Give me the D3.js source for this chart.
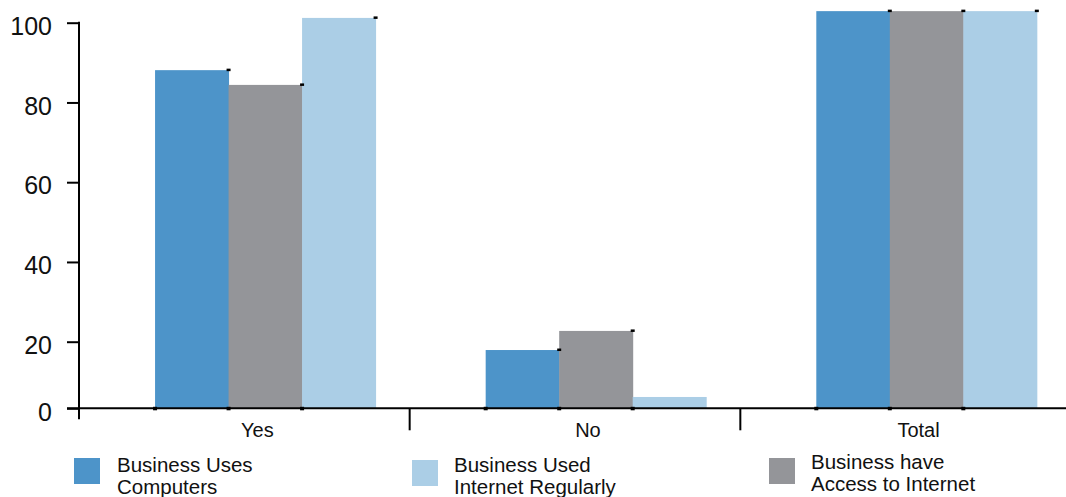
<!DOCTYPE html>
<html><head><meta charset="utf-8">
<script src="https://cdn.jsdelivr.net/npm/d3@7/dist/d3.min.js"></script>
<style>html,body{margin:0;padding:0;background:#fff;overflow:hidden}svg{display:block}text{font-family:"Liberation Sans",Arial,Helvetica,sans-serif;fill:#111}</style>
</head><body><svg id="c" width="1066" height="497"></svg>
<script>
const categories = ["Yes", "No", "Total"];
const seriesNames = ["Business Uses Computers", "Business have Access to Internet", "Business Used Internet Regularly"];
const usesComputers = [88.1, 17.5, 102.9];
const accessInternet = [84.4, 22.7, 102.9];
const usedRegularly = [101.2, 3.4, 102.9];
const yTicks = [0, 20, 40, 60, 80, 100];
const legendOrder = [
  ["Business Uses", "Computers"],
  ["Business Used", "Internet Regularly"],
  ["Business have", "Access to Internet"]
];
const legendSeries = [0, 2, 1];
const colors = ["#4d94c9", "#949599", "#abcee6"];

const seriesValues = [usesComputers, accessInternet, usedRegularly];
const svg = d3.select("#c");
const W = 1066;
const y = d3.scaleLinear().domain([0, 20, 100]).range([408.3, 341.7, 22.7]);
const xCat = d3.scaleBand().domain(categories).range([79, 1071]).padding(0);
const xGroup = d3.scaleBand().domain(categories).range([79, 1071])
  .paddingInner(0.333).paddingOuter(0.1667).align(0.69);
const xSeries = d3.scaleBand().domain(d3.range(seriesNames.length)).range([0, xGroup.bandwidth()]).padding(0);

// bars
const data = [];
categories.forEach((c, i) => seriesValues.forEach((vals, s) => data.push({c, s, v: vals[i]})));
svg.append("g").selectAll("rect").data(data).join("rect")
  .attr("x", d => xGroup(d.c) + xSeries(d.s))
  .attr("y", d => y(d.v))
  .attr("width", xSeries.bandwidth() + 0.5)
  .attr("height", d => y(0) - y(d.v))
  .attr("fill", d => colors[d.s]);

// small cap markers
svg.append("g").selectAll("rect").data(data.filter(d => d.v > 5)).join("rect")
  .attr("x", d => xGroup(d.c) + xSeries(d.s) + xSeries.bandwidth() - 2)
  .attr("y", d => y(d.v) - 1.5)
  .attr("width", 4).attr("height", 2.5).attr("fill", "#000");
svg.append("g").selectAll("rect").data(data).join("rect")
  .attr("x", d => xGroup(d.c) + xSeries(d.s) - 2)
  .attr("y", y(0) - 1.5)
  .attr("width", 4).attr("height", 3.5).attr("fill", "#000");

// y axis
const yAxis = d3.axisLeft(y).tickValues(yTicks).tickSize(12).tickPadding(15).tickSizeOuter(0);
const gy = svg.append("g").attr("transform", "translate(79,0)").call(yAxis);
gy.select(".domain").remove();
gy.selectAll(".tick line").attr("stroke", "#000").attr("stroke-width", 2);
gy.selectAll(".tick text").style("font-size", "25px").attr("dy", "0.47em").style("fill", "#111");
svg.append("line").attr("x1", 79).attr("x2", 79).attr("y1", y(100) - 1).attr("y2", y(0) + 11)
  .attr("stroke", "#000").attr("stroke-width", 2);

// x axis
svg.append("line").attr("x1", 67).attr("x2", W).attr("y1", y(0)).attr("y2", y(0))
  .attr("stroke", "#000").attr("stroke-width", 2);
svg.append("g").selectAll("line").data(categories.slice(1)).join("line")
  .attr("x1", d => xCat(d)).attr("x2", d => xCat(d))
  .attr("y1", y(0)).attr("y2", y(0) + 22)
  .attr("stroke", "#000").attr("stroke-width", 2);
svg.append("g").selectAll("text").data(categories).join("text")
  .attr("x", d => xGroup(d) + xGroup.bandwidth() / 2 - 8)
  .attr("y", y(0) + 28.5)
  .attr("text-anchor", "middle")
  .style("font-size", "20px")
  .text(d => d);

// legend
const legX = [74, 412, 769];
const lg = svg.append("g").selectAll("g").data(legendOrder).join("g")
  .attr("transform", (d, i) => `translate(${legX[i]},458)`);
lg.append("rect").attr("width", 26).attr("height", 26).attr("y", (d, i) => i === 1 ? 2 : 0)
  .attr("fill", (d, i) => colors[legendSeries[i]]);
lg.append("text").attr("x", (d, i) => [43, 42, 42][i]).attr("y", (d, i) => i === 2 ? 10.5 : 13.5)
  .style("font-size", "20.5px")
  .selectAll("tspan").data(d => d).join("tspan")
  .attr("x", function(){ return this.parentNode.getAttribute("x"); })
  .attr("dy", (d, j) => j === 0 ? 0 : 22.5)
  .text(d => d);
</script>
</body></html>
